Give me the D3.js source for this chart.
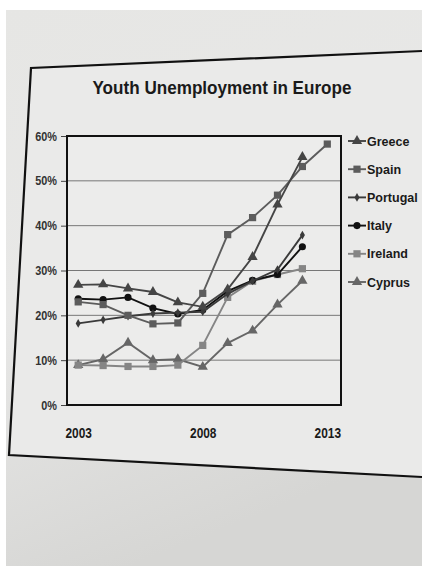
<!DOCTYPE html>
<html><head><meta charset="utf-8">
<script src="https://cdn.jsdelivr.net/npm/d3@7"></script>
<style>html,body{margin:0;padding:0;background:#fff;}svg{display:block;}</style>
</head><body>
<script>
const years = [2003,2004,2005,2006,2007,2008,2009,2010,2011,2012,2013];
const greece   = [26.8,26.9,26.0,25.2,22.9,21.9,25.8,33.0,44.7,55.3];
const spain    = [23.0,22.4,20.0,18.1,18.3,24.9,38.0,41.8,46.8,53.2,58.2];
const portugal = [18.2,19.0,19.8,20.4,20.6,20.8,24.8,27.7,30.2,37.9];
const italy    = [23.7,23.5,24.0,21.6,20.3,21.2,25.4,27.8,29.1,35.3];
const ireland  = [8.9,8.8,8.6,8.6,8.9,13.3,24.0,27.6,29.1,30.4];
const cyprus   = [8.9,10.2,13.9,10.0,10.2,8.5,13.8,16.6,22.4,27.7];
const seriesNames = ["Greece","Spain","Portugal","Italy","Ireland","Cyprus"];
const yTicks = [0,10,20,30,40,50,60];
const xTickLabels = [2003,2008,2013];

const series = [
  {name:"Greece", values:greece, color:"#454545", marker:"triangle", size:46},
  {name:"Spain", values:spain, color:"#5c5c5c", marker:"square", size:52},
  {name:"Portugal", values:portugal, color:"#3a3a3a", marker:"diamond", size:22},
  {name:"Italy", values:italy, color:"#111", marker:"circle", size:40},
  {name:"Ireland", values:ireland, color:"#858585", marker:"square", size:52},
  {name:"Cyprus", values:cyprus, color:"#666", marker:"triangle", size:46}
];
const symMap = {triangle:d3.symbolTriangle, square:d3.symbolSquare, diamond:d3.symbolDiamond, circle:d3.symbolCircle};

const W=422,H=566;
const FONT="Liberation Sans, Arial, sans-serif";
const svg = d3.select("body").append("svg").attr("width",W).attr("height",H);

function condense(sel, f){
  sel.each(function(){
    const len=this.getComputedTextLength();
    d3.select(this).attr("textLength",len*f).attr("lengthAdjust","spacingAndGlyphs");
  });
}

const defs = svg.append("defs");
const g1 = defs.append("linearGradient").attr("id","bg").attr("x1",0).attr("y1",0).attr("x2",0.3).attr("y2",1);
g1.append("stop").attr("offset","0").attr("stop-color","#e6e6e4");
g1.append("stop").attr("offset","0.5").attr("stop-color","#e8e8e7");
g1.append("stop").attr("offset","1").attr("stop-color","#d6d6d4");
svg.append("rect").attr("x",6).attr("y",10).attr("width",W-6).attr("height",H-10).attr("fill","url(#bg)");

// paper frame (photographed, slightly skewed)
svg.append("path").attr("d","M31,68 L422,51 L422,477 L9,455 Z")
  .attr("fill","#eaeae9").attr("stroke","none");
svg.append("path").attr("d","M422,51 L31,68 L9,455 L422,477")
  .attr("fill","none").attr("stroke","#111").attr("stroke-width",2.2);

const pL=67,pR=341,pT=136,pB=405;
const x = d3.scaleLinear().domain([2002.55,2013.55]).range([pL,pR]);
const y = d3.scaleLinear().domain([0,60]).range([pB,pT]);

// title
svg.append("text").attr("x",222).attr("y",94).attr("text-anchor","middle")
  .attr("font-family",FONT).attr("font-weight","bold")
  .attr("font-size",19).attr("fill","#1a1a1a").text("Youth Unemployment in Europe")
  .call(condense,0.9);

// plot background
svg.append("rect").attr("x",pL).attr("y",pT).attr("width",pR-pL).attr("height",pB-pT).attr("fill","#ececeb");

// gridlines
svg.append("g").selectAll("line").data(yTicks.filter(d=>d>0&&d<60)).join("line")
  .attr("x1",pL).attr("x2",pR).attr("y1",d=>y(d)).attr("y2",d=>y(d))
  .attr("stroke","#777").attr("stroke-width",1);

// y axis
const yAxis = d3.axisLeft(y).tickValues(yTicks).tickFormat(d=>d+"%").tickSize(6).tickPadding(4);
const ya = svg.append("g").attr("transform",`translate(${pL},0)`).call(yAxis);
ya.select(".domain").remove();
ya.selectAll("line").attr("stroke","#444");
ya.selectAll("text").attr("font-family",FONT).attr("font-weight","bold")
  .attr("font-size",12.5).attr("fill","#333").call(condense,0.87);

// x axis labels
const xAxis = d3.axisBottom(x).tickValues(xTickLabels).tickFormat(d3.format("d")).tickSize(0).tickPadding(23);
const xa = svg.append("g").attr("transform",`translate(0,${pB})`).call(xAxis);
xa.select(".domain").remove();
xa.selectAll("text").attr("font-family",FONT).attr("font-weight","bold")
  .attr("font-size",14).attr("fill","#1a1a1a").call(condense,0.85);

// plot border
svg.append("rect").attr("x",pL).attr("y",pT).attr("width",pR-pL).attr("height",pB-pT)
  .attr("fill","none").attr("stroke","#111").attr("stroke-width",2);

// series
const line = d3.line().x((d,i)=>x(years[i])).y(d=>y(d));
const sg = svg.append("g").selectAll("g").data(series.slice().reverse()).join("g");
sg.append("path").attr("d",d=>line(d.values)).attr("fill","none")
  .attr("stroke",d=>d.color).attr("stroke-width",1.9);
sg.each(function(s){
  d3.select(this).selectAll("path.m").data(s.values).join("path").attr("class","m")
    .attr("transform",(d,i)=>`translate(${x(years[i])},${y(d)})`)
    .attr("d",d3.symbol().type(symMap[s.marker]).size(s.size))
    .attr("fill",s.color);
});

// legend
const lg = svg.append("g").selectAll("g").data(series).join("g")
  .attr("transform",(d,i)=>`translate(348,${141+i*28.2})`);
lg.append("line").attr("x1",0).attr("x2",18).attr("stroke",d=>d.color).attr("stroke-width",1.9);
lg.append("path").attr("transform","translate(9,0)")
  .attr("d",d=>d3.symbol().type(symMap[d.marker]).size(d.size)())
  .attr("fill",d=>d.color);
lg.append("text").attr("x",19).attr("dy","0.36em")
  .attr("font-family",FONT).attr("font-weight","bold")
  .attr("font-size",12.5).attr("fill","#1a1a1a").text(d=>d.name);
</script>
</body></html>
